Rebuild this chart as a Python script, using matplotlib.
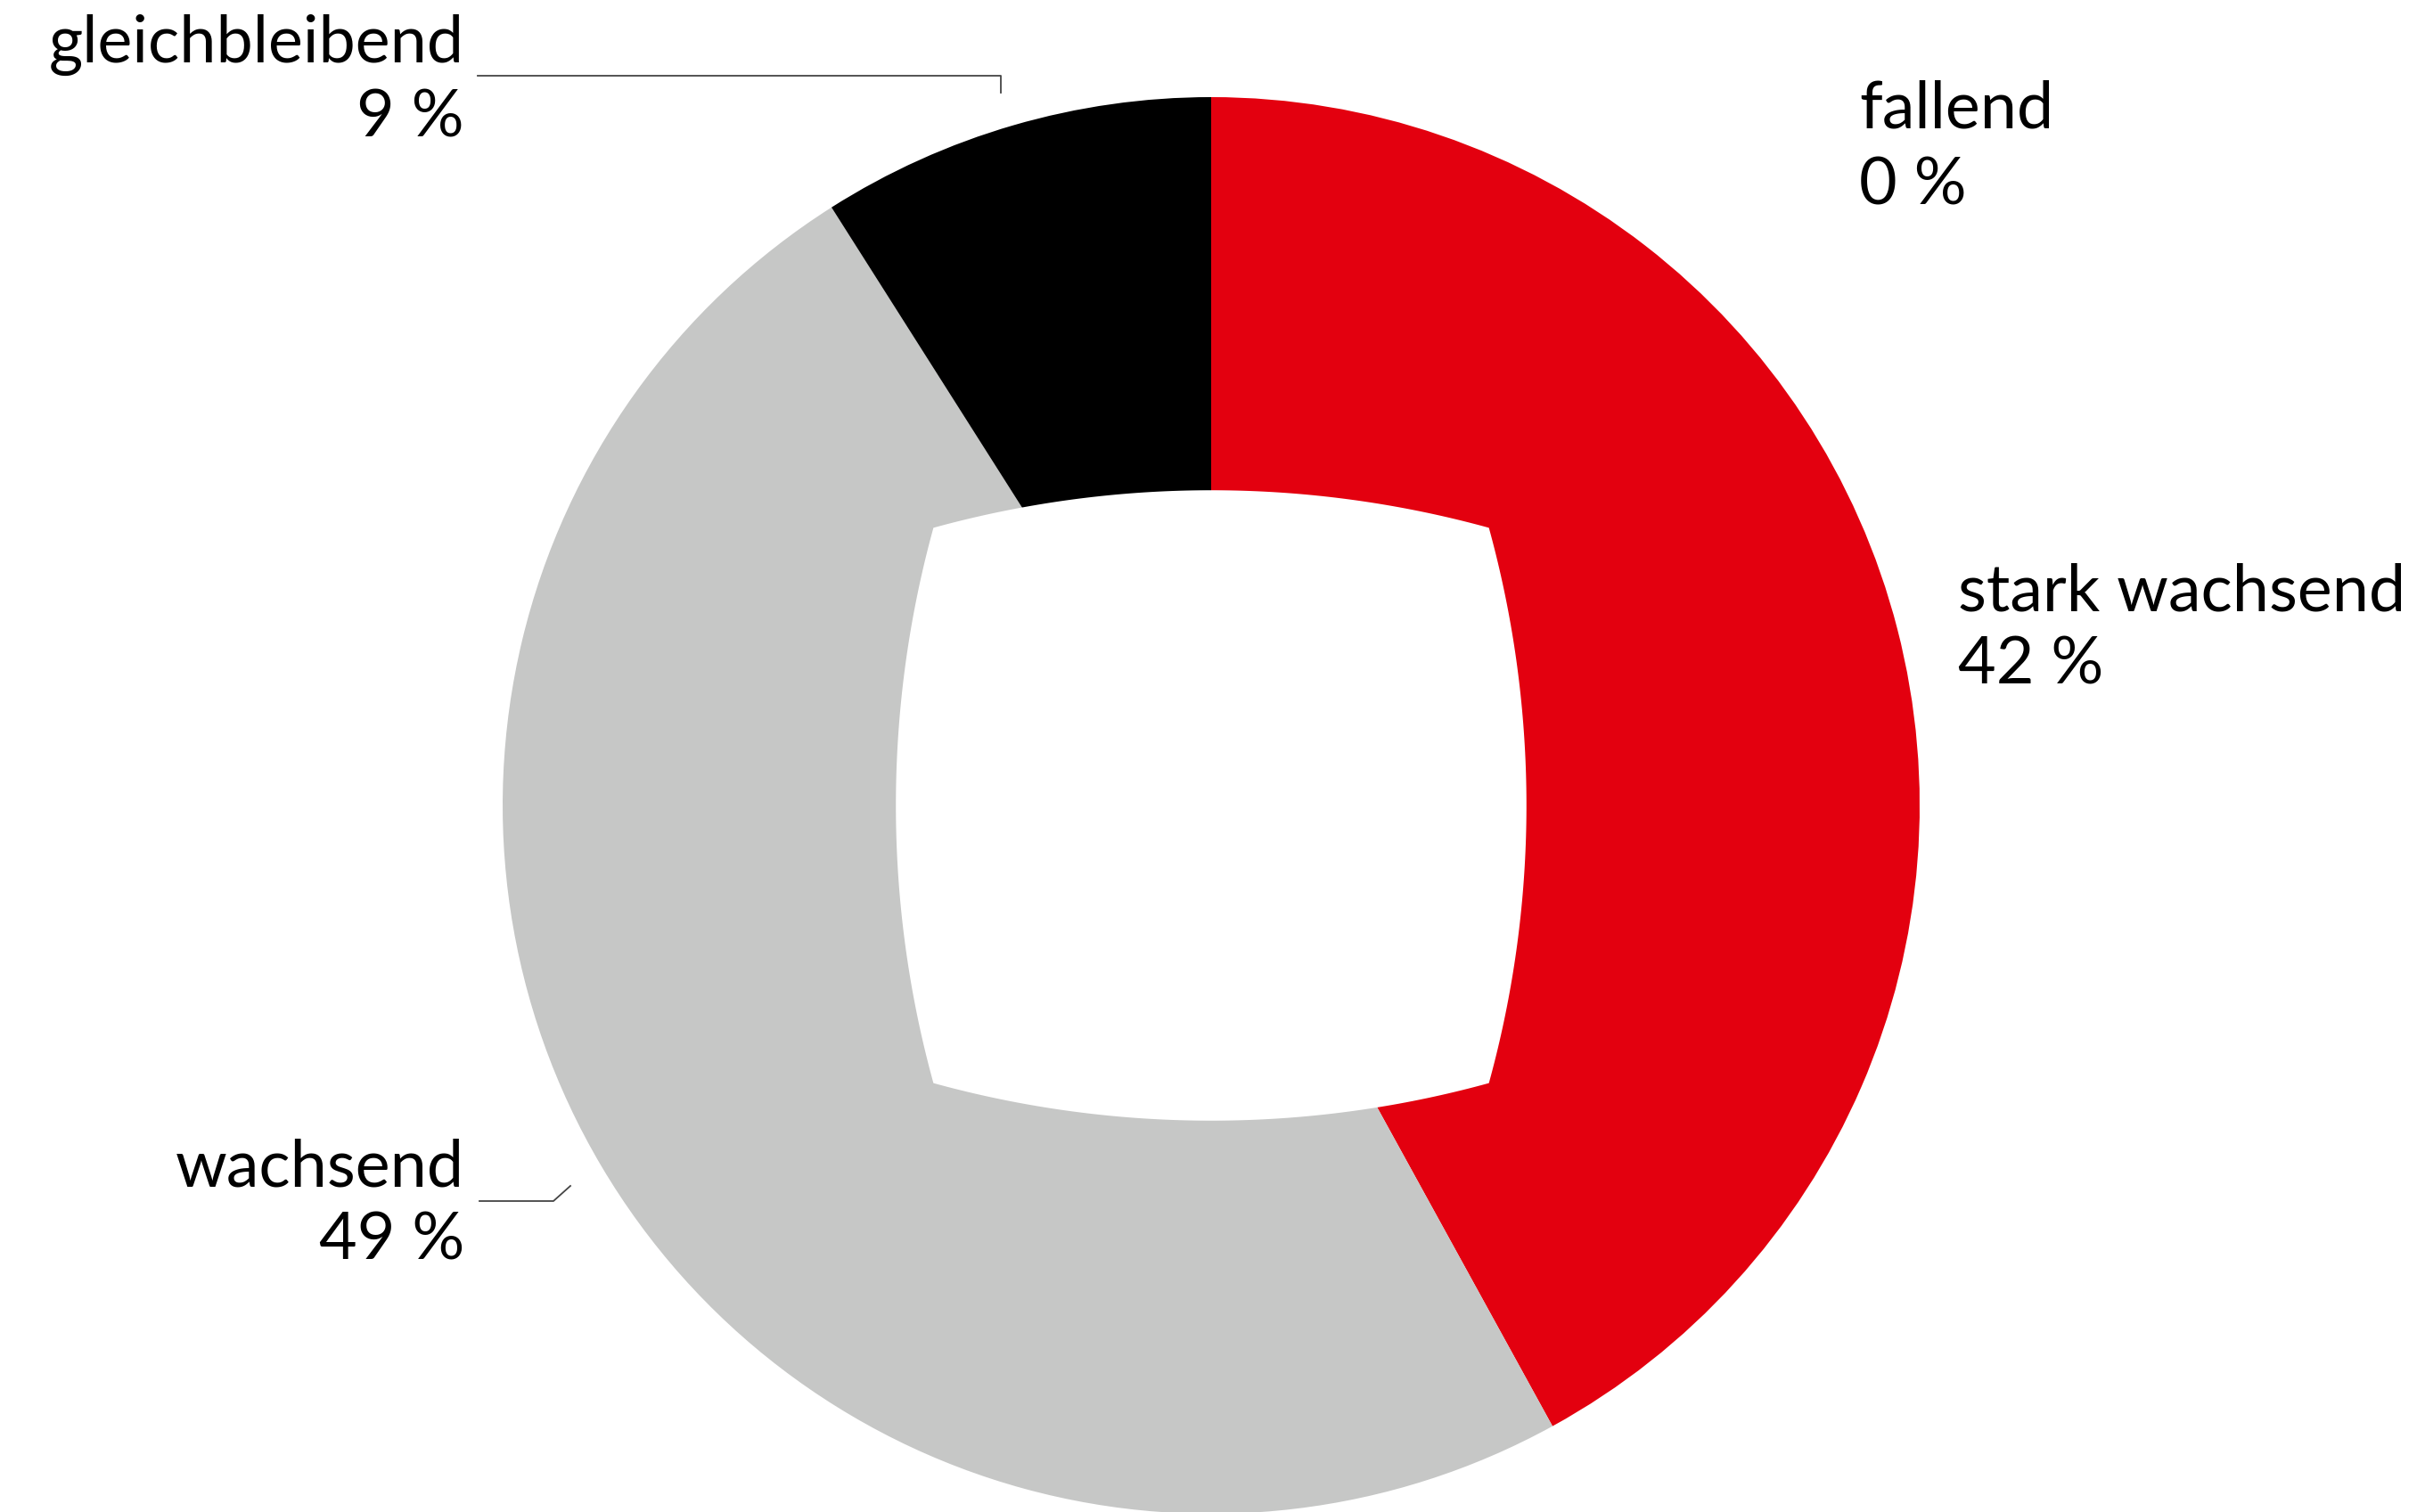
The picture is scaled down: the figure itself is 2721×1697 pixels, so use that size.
import numpy as np
import matplotlib.pyplot as plt
from matplotlib.patches import Polygon

# data
categories = ["stark wachsend", "wachsend", "gleichbleibend", "fallend"]
shares = [42, 49, 9, 0]
colors = ["#E3000F", "#C6C7C6", "#000000", "#7F7F7F"]
value_labels = ["42 %", "49 %", "9 %", "0 %"]

W, H = 2721, 1697
CX, CY, R_PX = 1359, 904, 795

plt.rcParams['font.family'] = ['Lato', 'DejaVu Sans']

fig = plt.figure(figsize=(W / 100, H / 100), dpi=100)
ax = fig.add_axes([0, 0, 1, 1])

ax.pie(shares, colors=colors, startangle=90, counterclock=False, radius=1,
       wedgeprops=dict(linewidth=0), center=(0, 0), frame=False)
ax.set_xlim(-CX / R_PX, (W - CX) / R_PX)
ax.set_ylim(-(H - CY) / R_PX, CY / R_PX)
ax.set_aspect('equal')
ax.axis('off')

# cushion-shaped hole: square with bulging arc sides
c, m = 0.392, 0.445
s = m - c
R = (c ** 2 + s ** 2) / (2 * s)
t0 = np.arcsin(c / R)
t = np.linspace(-t0, t0, 80)
edge = np.column_stack([R * np.sin(t), (m - R) + R * np.cos(t)])
pts = []
for k in range(4):
    a = -k * np.pi / 2
    rot = np.array([[np.cos(a), -np.sin(a)], [np.sin(a), np.cos(a)]])
    pts.append(edge @ rot.T)
hole = Polygon(np.vstack(pts), closed=True, facecolor='white', edgecolor='none', zorder=5)
ax.add_patch(hole)


def fx(px):
    return px / W


def fy(py):
    return 1 - py / H


fs = 53
fig.text(fx(521), fy(70), categories[2], ha='right', va='baseline', fontsize=fs)
fig.text(fx(521), fy(153), value_labels[2], ha='right', va='baseline', fontsize=fs)
fig.text(fx(2086), fy(144), categories[3], ha='left', va='baseline', fontsize=fs)
fig.text(fx(2086), fy(229), value_labels[3], ha='left', va='baseline', fontsize=fs)
fig.text(fx(2197), fy(685), categories[0], ha='left', va='baseline', fontsize=fs)
fig.text(fx(2197), fy(767), value_labels[0], ha='left', va='baseline', fontsize=fs)
fig.text(fx(521), fy(1331), categories[1], ha='right', va='baseline', fontsize=fs)
fig.text(fx(521), fy(1414), value_labels[1], ha='right', va='baseline', fontsize=fs)

# leader lines
fig.add_artist(plt.Line2D([fx(536), fx(1123), fx(1123)], [fy(85), fy(85), fy(104)],
                          color='#444444', lw=1.3))
fig.add_artist(plt.Line2D([fx(538), fx(621), fx(640)], [fy(1348), fy(1348), fy(1331)],
                          color='#444444', lw=1.3))

fig.savefig('out.png', dpi=100)
